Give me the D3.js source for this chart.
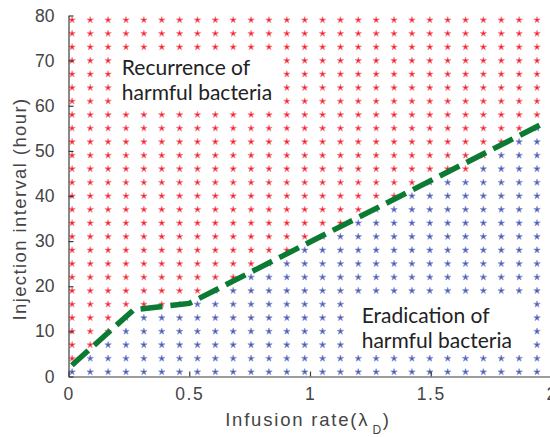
<!DOCTYPE html>
<html>
<head>
<meta charset="utf-8">
<script src="https://cdn.jsdelivr.net/npm/d3@7"></script>
<style>
  body { margin: 0; background: #fff; }
  svg { display: block; }
</style>
</head>
<body>
<div id="chart"></div>
<script>
////// DATA
// grid of simulated parameter pairs
var infusionRates = [0.015, 0.09, 0.164, 0.238, 0.312, 0.386, 0.46, 0.534, 0.608,
    0.682, 0.756, 0.83, 0.904, 0.978, 1.052, 1.126, 1.2, 1.274,
    1.348, 1.422, 1.496, 1.57, 1.644, 1.718, 1.792, 1.866, 1.94];
var injectionIntervals = [1, 4, 7, 10, 13, 16, 19, 22, 25, 28, 31, 34, 37, 40,
    43, 46, 49, 52, 55, 58, 61, 64, 67, 70, 73, 76, 79];
// how many rows (from the bottom) end in eradication, per column
var eradicatedRows = [1, 2, 3, 5, 5, 5, 5, 6, 7, 7, 8, 9, 9, 10, 11, 11, 12, 13,
    13, 14, 15, 15, 15, 16, 17, 18, 19];
// dashed boundary
var boundaryX = [0.014, 0.27, 0.5, 1.97];
var boundaryY = [2.5, 14.8, 16.2, 56.2];
var xTicks = [0, 0.5, 1, 1.5, 2];
var yTicks = [0, 10, 20, 30, 40, 50, 60, 70, 80];

////// SETUP SVG
var W = 550, H = 437;
var margin = { top: 15.5, left: 68.5, right: -1.5, bottom: 60.5 },
    width = W - margin.left - margin.right,
    height = H - margin.top - margin.bottom;

var svg = d3.select("#chart").append("svg")
    .attr("width", W)
    .attr("height", H);
var g = svg.append("g")
    .attr("transform", "translate(" + margin.left + "," + margin.top + ")");

var x = d3.scaleLinear().domain([0, 2]).range([0, width]);
var y = d3.scaleLinear().domain([0, 80]).range([height, 0]);

////// STAR MARKERS
var cells = [];
infusionRates.forEach(function(r, i) {
    injectionIntervals.forEach(function(t, j) {
        cells.push({ r: r, t: t, ok: j < eradicatedRows[i] });
    });
});

var star = d3.symbol().type(d3.symbolStar).size(13);
g.selectAll(".pt")
    .data(cells)
    .enter()
    .append("path")
    .attr("class", "pt")
    .attr("d", star)
    .attr("transform", function(d) { return "translate(" + x(d.r) + "," + y(d.t) + ")"; })
    .attr("fill", function(d) { return d.ok ? "#4a5ab2" : "#f01e2a"; })
    .attr("stroke", function(d) { return d.ok ? "#8a95d0" : "#f78a90"; })
    .attr("stroke-width", 0.7);

////// TEXT LABELS (white box hides the stars behind)
function region(x0, x1, y0, y1, lines, tx, ty) {
    g.append("rect")
        .attr("x", x(x0)).attr("y", y(y1))
        .attr("width", x(x1) - x(x0)).attr("height", y(y0) - y(y1))
        .attr("fill", "#fff");
    var t = g.append("text")
        .attr("x", x(tx)).attr("y", y(ty))
        .attr("font-family", "Lato, 'Open Sans', sans-serif")
        .attr("font-size", "21px")
        .attr("fill", "#222");
    lines.forEach(function(s, i) {
        t.append("tspan").attr("x", x(tx)).attr("dy", i ? 25 : 0).text(s);
    });
}
region(0.2, 0.87, 59.8, 72, ["Recurrence of", "harmful bacteria"], 0.221, 66.9);
region(1.165, 1.91, 5.4, 17.6, ["Eradication of", "harmful bacteria"], 1.214, 11.8);

////// BOUNDARY LINE
var line = d3.line()
    .x(function(d) { return x(d[0]); })
    .y(function(d) { return y(d[1]); });
g.append("path")
    .datum(d3.zip(boundaryX, boundaryY))
    .attr("d", line)
    .attr("fill", "none")
    .attr("stroke", "#0b7a32")
    .attr("stroke-width", 5.5)
    .attr("stroke-dasharray", "22,8");

////// AXES
var axisColor = "#3c3c3c";
var xAxis = g.append("g")
    .attr("transform", "translate(0," + height + ")")
    .call(d3.axisBottom(x).tickValues(xTicks).tickFormat(d3.format("")).tickSizeInner(-5).tickSizeOuter(0).tickPadding(11));
var yAxis = g.append("g")
    .call(d3.axisLeft(y).tickValues(yTicks).tickSizeInner(-5).tickSizeOuter(0).tickPadding(14));

[xAxis, yAxis].forEach(function(a) {
    a.select(".domain").attr("stroke", axisColor).attr("stroke-width", 1.2);
    a.selectAll(".tick line").attr("stroke", axisColor).attr("stroke-width", 1.2);
    a.selectAll("text")
        .attr("font-family", "'Liberation Sans', Arial, sans-serif")
        .attr("font-size", "17.5px")
        .attr("fill", "#444");
});
xAxis.selectAll("text").attr("letter-spacing", "1.5px");

// x label with subscript
var xl = svg.append("text")
    .attr("x", margin.left + x(1) - 2)
    .attr("y", 426)
    .attr("text-anchor", "middle")
    .attr("font-family", "'Liberation Sans', Arial, sans-serif")
    .attr("font-size", "18.5px")
    .attr("letter-spacing", "1.8px")
    .attr("fill", "#444");
xl.append("tspan").text("Infusion rate(\u03bb");
xl.append("tspan").attr("font-size", "12px").attr("dy", 8).attr("dx", 3).text("D");
xl.append("tspan").attr("dy", -8).text(")");

svg.append("text")
    .attr("transform", "translate(26,209) rotate(-90)")
    .attr("text-anchor", "middle")
    .attr("font-family", "'Liberation Sans', Arial, sans-serif")
    .attr("font-size", "18.5px")
    .attr("letter-spacing", "1.4px")
    .attr("fill", "#444")
    .text("Injection interval (hour)");
</script>
</body>
</html>
